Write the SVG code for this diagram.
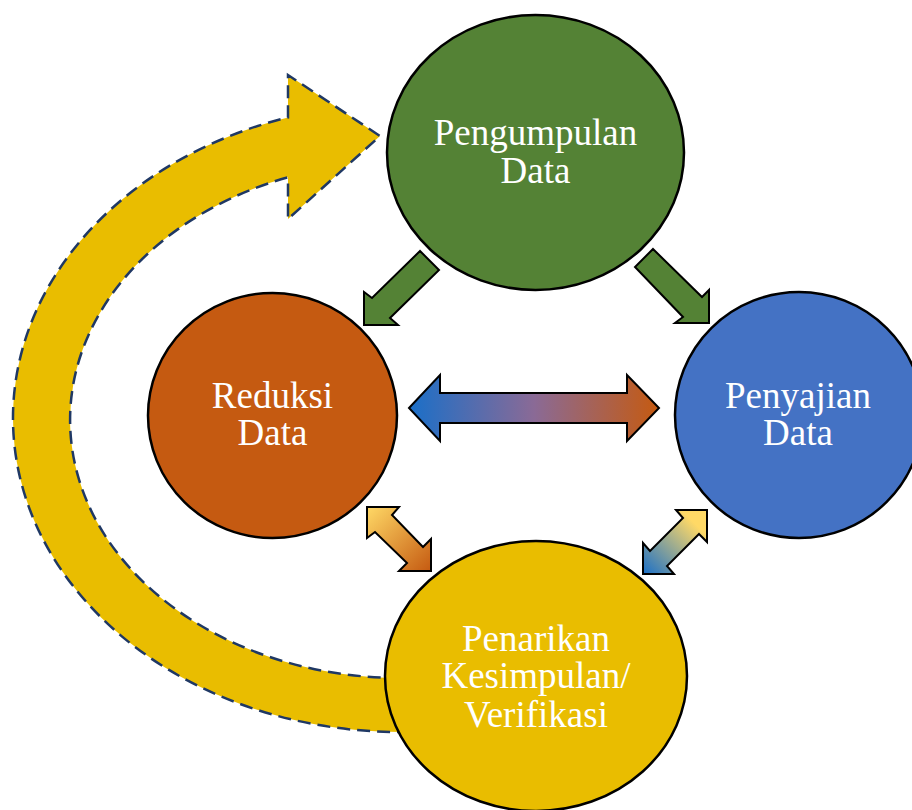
<svg xmlns="http://www.w3.org/2000/svg" width="912" height="810" viewBox="0 0 912 810">
<defs>
<style>
.node{stroke:#000;stroke-width:2.5}
.lbl{font-family:"Liberation Serif","Times New Roman",serif;font-size:37px;fill:#fff;text-anchor:middle}
.conn{stroke:#000;stroke-width:2;stroke-linejoin:miter}
.green{fill:#548235}
</style>
<linearGradient id="gH" x1="409" y1="0" x2="659" y2="0" gradientUnits="userSpaceOnUse">
<stop offset="0" stop-color="#1a6fc8"/>
<stop offset="0.5" stop-color="#8a6a96"/>
<stop offset="1" stop-color="#c55a11"/>
</linearGradient>
<linearGradient id="gL" x1="367" y1="507" x2="431" y2="571" gradientUnits="userSpaceOnUse">
<stop offset="0" stop-color="#ffd966"/>
<stop offset="1" stop-color="#c55a11"/>
</linearGradient>
<linearGradient id="gR" x1="707" y1="510" x2="643" y2="574" gradientUnits="userSpaceOnUse">
<stop offset="0" stop-color="#ffd966"/>
<stop offset="0.2" stop-color="#ffd966"/>
<stop offset="1" stop-color="#1a6fc8"/>
</linearGradient>
</defs>
<rect width="912" height="810" fill="#fff"/>
<g id="connectors">
<path id="loop-arrow" d="M 430 731.06 A 387 314 0 0 1 288 117.44 L 288 75 L 380 136 L 288 219 L 288 177.3 A 330 258 0 0 0 430 676.9 Z" fill="#e9bd00" stroke="#1f3864" stroke-width="2.5" stroke-dasharray="13 7"/>
</g>
<g id="node-pengumpulan">
<ellipse class="node" cx="535.5" cy="152.5" rx="148.5" ry="137.5" fill="#548235"/>
<text class="lbl" x="535.5" y="145">Pengumpulan</text>
<text class="lbl" x="535.5" y="183">Data</text>
</g>
<g id="node-reduksi">
<ellipse class="node" cx="272.5" cy="415.5" rx="124.5" ry="122.5" fill="#c55a11"/>
<text class="lbl" x="272.5" y="408">Reduksi</text>
<text class="lbl" x="272.5" y="445">Data</text>
</g>
<g id="node-penyajian">
<ellipse class="node" cx="799" cy="415" rx="124" ry="123" fill="#4472c4"/>
<text class="lbl" x="798" y="408">Penyajian</text>
<text class="lbl" x="798" y="445">Data</text>
</g>
<g id="node-penarikan">
<ellipse class="node" cx="536" cy="676" rx="151" ry="135" fill="#e9bd00"/>
<text class="lbl" x="536" y="651">Penarikan</text>
<text class="lbl" x="536" y="688">Kesimpulan/</text>
<text class="lbl" x="536" y="727">Verifikasi</text>
</g>
<g id="small-connectors">
<polygon class="conn green" points="420,251 372,298 364,292 364,325 398,325 390,318 439,270"/>
<polygon class="conn green" points="653,249 702,297 709,290 709,323 675,323 683,317 635,267"/>
<polygon class="conn" fill="url(#gH)" points="409,408 440,375 440,393 627,393 627,375 659,408 627,441 627,423 440,423 440,441"/>
<polygon class="conn" fill="url(#gL)" points="367,507 399,507 392,515 423,547 431,539 431,571 399,571 407,563 375,532 367,538"/>
<polygon class="conn" fill="url(#gR)" points="707,510 707,542 699,534 667,566 674,574 643,574 643,543 650,551 683,518 676,510"/>
</g>
</svg>
